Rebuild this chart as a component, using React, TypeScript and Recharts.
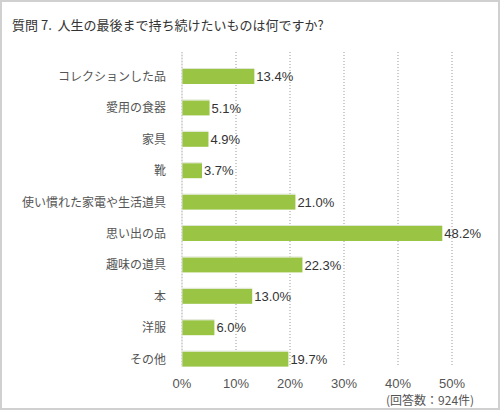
import React from 'react';
import { BarChart, Bar, XAxis, YAxis, CartesianGrid, LabelList } from 'recharts';

const categories = [
  'コレクションした品',
  '愛用の食器',
  '家具',
  '靴',
  '使い慣れた家電や生活道具',
  '思い出の品',
  '趣味の道具',
  '本',
  '洋服',
  'その他',
];
const percents = [13.4, 5.1, 4.9, 3.7, 21.0, 48.2, 22.3, 13.0, 6.0, 19.7];
const xTicks = [0, 10, 20, 30, 40, 50];

const data = categories.map((name, i) => ({ name, value: percents[i] }));

const FONT = '"Liberation Sans", Arial, "Noto Sans CJK JP", sans-serif';
const CJK = '"Noto Sans CJK JP", "Liberation Sans", sans-serif';

// bar with a thin light line on its top edge
const BarShape = (props: any) => {
  const { x, y, width, height } = props;
  return (
    <g>
      <rect x={x} y={y} width={width} height={height} fill="#99c444" />
      <line x1={x} x2={x + width} y1={y - 0.5} y2={y - 0.5} stroke="#dfe6d2" strokeWidth={1} />
    </g>
  );
};

export default function App() {
  return (
    <div
      style={{
        position: 'absolute',
        left: 0,
        top: 0,
        width: 500,
        height: 410,
        boxSizing: 'border-box',
        border: '2px solid #d0d0d0',
        background: '#fff',
        overflow: 'hidden',
      }}
    >
      <div
        style={{
          position: 'absolute',
          left: 10,
          top: 13,
          fontFamily: CJK,
          fontSize: 13,
          color: '#333',
          whiteSpace: 'nowrap',
        }}
      >
        質問 7.&nbsp;&nbsp;人生の最後まで持ち続けたいものは何ですか?
      </div>
      <div style={{ position: 'absolute', left: -2, top: -2 }}>
        <BarChart
          width={500}
          height={410}
          data={data}
          layout="vertical"
          margin={{ top: 52, right: 48, left: 0, bottom: 13 }}
        >
          <CartesianGrid horizontal={false} vertical stroke="#999" strokeDasharray="1 2" />
          <XAxis
            type="number"
            domain={[0, 50]}
            ticks={xTicks}
            tickFormatter={(v) => `${v}%`}
            axisLine={false}
            tickLine={false}
            tickSize={0}
            tickMargin={12}
            height={30}
            tick={{ fill: '#555', fontSize: 13, fontFamily: FONT }}
          />
          <YAxis
            type="category"
            dataKey="name"
            width={182}
            padding={{ top: 9, bottom: -8 }}
            axisLine={{ stroke: '#ddd' }}
            tickLine={false}
            tickSize={0}
            tickMargin={16}
            interval={0}
            tick={{ fill: '#555', fontSize: 12, fontFamily: CJK }}
          />
          <Bar dataKey="value" barSize={15} shape={<BarShape />} isAnimationActive={false}>
            <LabelList
              dataKey="value"
              position="right"
              offset={2}
              formatter={(v: any) => `${Number(v).toFixed(1)}%`}
              style={{ fill: '#333', fontSize: 13, fontFamily: FONT }}
            />
          </Bar>
        </BarChart>
      </div>
      <div
        style={{
          position: 'absolute',
          left: 384,
          top: 389,
          fontFamily: CJK,
          fontSize: 12,
          color: '#555',
          whiteSpace: 'nowrap',
        }}
      >
        (回答数：924件)
      </div>
    </div>
  );
}
